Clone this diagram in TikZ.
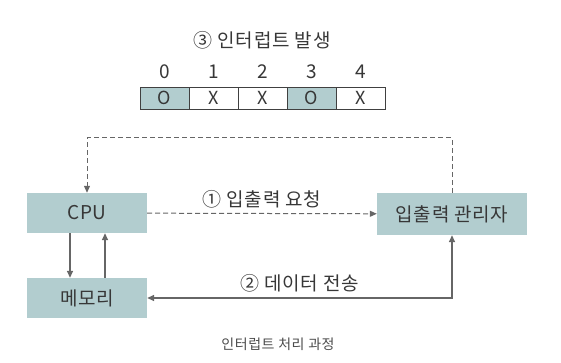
\documentclass[tikz,border=0pt]{standalone}
\usepackage{fontspec}
\setmainfont{Noto Sans CJK KR}[LetterSpace=4]
\definecolor{boxteal}{RGB}{178,205,207}
\definecolor{linegray}{RGB}{102,102,102}
\definecolor{textgray}{RGB}{55,55,55}
\usetikzlibrary{arrows.meta,positioning}

\begin{document}
\begin{tikzpicture}[x=1pt, y=1pt,
    box/.style={rectangle, fill=boxteal, minimum width=120pt, minimum height=40pt,
                align=center, text=textgray, font=\fontsize{19}{22}\selectfont},
    cell/.style={rectangle, draw=black!75, line width=0.8pt, minimum width=49pt,
                 minimum height=22pt, text=textgray, font=\fontsize{18}{20}\selectfont},
    lbl/.style={text=textgray, font=\fontsize{19}{22}\selectfont},
    arrow/.style={-{Triangle[length=7pt,width=6pt]}, line width=1.5pt, linegray},
    dasharrow/.style={-{Triangle[length=7pt,width=6pt]}, line width=1pt, linegray,
                      dash pattern=on 5pt off 3pt}]
\useasboundingbox (0,0) rectangle (561,-363);

% interrupt table
\node[lbl] (title) at (262,-40) {③ 인터럽트 발생};
\foreach \i/\v/\c in {0/O/boxteal,1/X/white,2/X/white,3/O/boxteal,4/X/white} {
  \node[cell, fill=\c] (cell\i) at (164.5+49*\i,-98) {\v};
  \node[lbl] (num\i) at (164.5+49*\i,-72) {\i};
}

% boxes
\node[box] (cpu) at (87,-213) {CPU};
\node[box] (mem) at (87,-298) {메모리};
\node[box, minimum width=150pt, minimum height=42pt] (io) at (452,-214) {입출력 관리자};
\coordinate (top) at (452,-138);

\draw[dasharrow] (cpu) -- node[lbl, above=2pt] (req) {① 입출력 요청} (io);
\draw[dasharrow] (io.north) -- (top) -| (cpu.north);
\draw[arrow] ([xshift=-17pt]cpu.south) -- ([xshift=-17pt]mem.north);
\draw[arrow] ([xshift=18pt]mem.north) -- ([xshift=18pt]cpu.south);
\draw[arrow, {Triangle[length=7pt,width=6pt]}-{Triangle[length=7pt,width=6pt]}]
  (io.south) |- node[lbl, pos=0.75, above=2pt] (data) {② 데이터 전송} (mem.east);

\node[text=textgray!90, font=\fontsize{14}{16}\selectfont] (caption) at (278,-344) {인터럽트 처리 과정};
\end{tikzpicture}
\end{document}
